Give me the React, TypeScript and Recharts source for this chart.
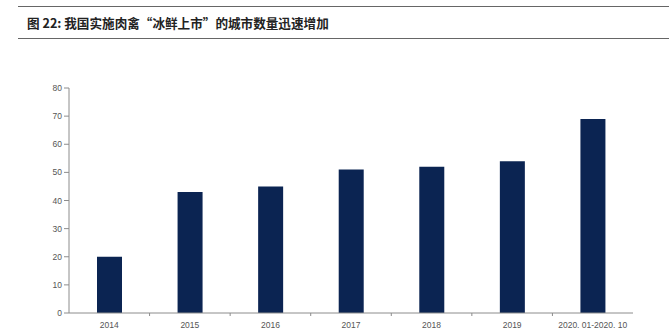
import { BarChart, Bar, XAxis, YAxis } from 'recharts';

const categories = ['2014', '2015', '2016', '2017', '2018', '2019', '2020. 01-2020. 10'];
const cityCounts = [20, 43, 45, 51, 52, 54, 69];
const yTicks = [0, 10, 20, 30, 40, 50, 60, 70, 80];

const chartData = categories.map((name, i) => ({ name, value: cityCounts[i] }));

const BAND = (633 - 69) / categories.length;

// 类目标签 + 类目之间的小刻度
function CategoryTick(props: any) {
  const { x, payload, index } = props;
  const axisY = 313;
  return (
    <g>
      <text
        x={x}
        y={axisY + 15}
        textAnchor="middle"
        fontSize={8.5}
        fill="#555"
        fontFamily="'Liberation Sans', Arial, sans-serif"
      >
        {payload.value}
      </text>
      {index < categories.length - 1 && (
        <line x1={x + BAND / 2} x2={x + BAND / 2} y1={axisY} y2={axisY + 3} stroke="#8c8c8c" />
      )}
    </g>
  );
}

export default function App() {
  return (
    <div style={{ position: 'absolute', left: 0, top: 0, width: 669, height: 336, background: '#fff' }}>
      <div style={{ position: 'absolute', left: 18, right: 0, top: 6, borderTop: '1.5px solid #666' }} />
      <div
        style={{
          position: 'absolute',
          left: 27,
          top: 14,
          fontFamily: "'Noto Sans CJK SC', sans-serif",
          fontWeight: 700,
          fontSize: 12.6,
          color: '#222',
          lineHeight: '18px',
          whiteSpace: 'nowrap',
        }}
      >
        图 22: 我国实施肉禽“冰鲜上市”的城市数量迅速增加
      </div>
      <div style={{ position: 'absolute', left: 18, right: 0, top: 38, borderTop: '1.5px solid #666' }} />
      <div style={{ position: 'absolute', left: 0, top: 0 }}>
        <BarChart width={669} height={336} data={chartData} margin={{ top: 88, right: 36, bottom: 3, left: 0 }}>
          <YAxis
            width={69}
            domain={[0, 80]}
            ticks={yTicks}
            interval={0}
            tickSize={5}
            axisLine={{ stroke: '#8c8c8c' }}
            tickLine={{ stroke: '#8c8c8c' }}
            tick={{ fontSize: 8.5, fill: '#555', fontFamily: "'Liberation Sans', Arial, sans-serif" }}
          />
          <XAxis
            dataKey="name"
            height={20}
            interval={0}
            tickLine={false}
            axisLine={{ stroke: '#8c8c8c' }}
            tick={<CategoryTick />}
          />
          <Bar dataKey="value" fill="#0b2452" barSize={25} isAnimationActive={false} />
        </BarChart>
      </div>
    </div>
  );
}
